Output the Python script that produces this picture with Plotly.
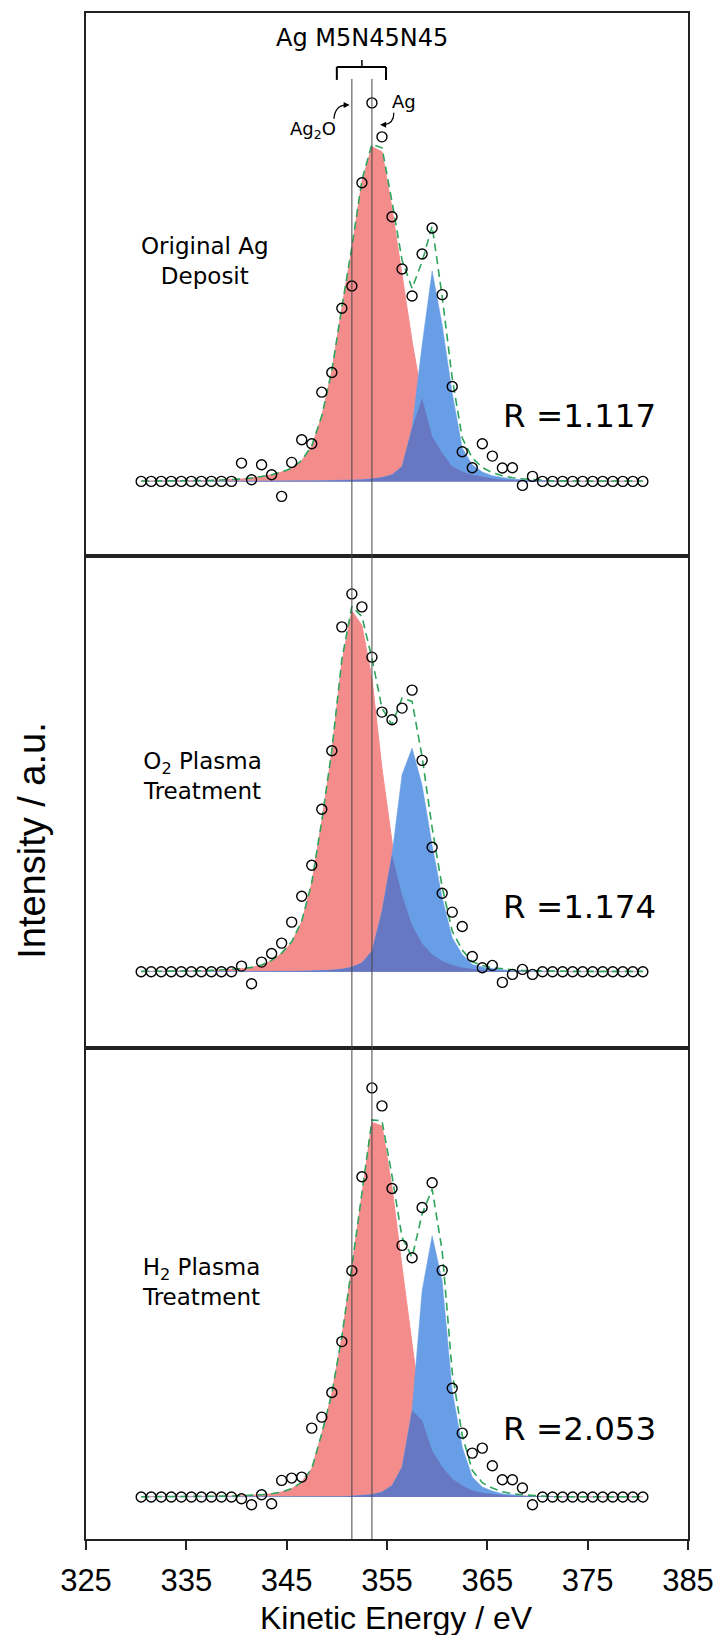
import numpy as np
import plotly.graph_objects as go
from plotly.subplots import make_subplots

# ---------------- data (intensity in arbitrary units) ----------------
energy = [330.5 + i for i in range(51)]

data_orig = [0, 0, 0, 0, 0, 0, 0, 0, 0, 0,
             55, 5, 50, 20, -45, 57, 125, 113, 268, 327,
             520, 587, 897, 1137, 1035, 795, 638, 557, 683, 761,
             561, 285, 89, 41, 113, 76, 40, 41, -12, 15,
             0, 0, 0, 0, 0, 0, 0, 0, 0, 0, 0]
red_orig = [1, 1, 1, 2, 2, 2, 3, 3, 4, 5,
            7, 10, 14, 20, 28, 40, 62, 105, 195, 330,
            520, 700, 900, 1005, 990, 820, 620, 420, 250, 135,
            85, 45, 30, 20, 14, 9, 6, 4, 3, 2,
            2, 1, 1, 1, 1, 1, 1, 1, 1, 1, 1]
blue_orig = [0, 0, 0, 0, 0, 0, 0, 0, 0, 0,
             0, 0, 0, 0, 0, 0, 1, 2, 2, 3,
             3, 4, 5, 8, 12, 20, 45, 160, 410, 632,
             470, 265, 100, 50, 28, 17, 11, 7, 5, 3,
             2, 1, 0, 0, 0, 0, 0, 0, 0, 0, 0]

data_o2 = [0, 0, 0, 0, 0, 0, 0, 0, 0, 0,
           17, -36, 29, 55, 86, 149, 227, 320, 488, 664,
           1036, 1135, 1096, 945, 780, 757, 792, 846, 635, 374,
           236, 179, 136, 46, 12, 19, -32, -8, 7, -8,
           0, 0, 0, 0, 0, 0, 0, 0, 0, 0, 0]
red_o2 = [1, 1, 2, 2, 2, 3, 3, 4, 5, 6,
          9, 13, 20, 33, 55, 88, 150, 265, 450, 660,
          930, 1084, 1040, 880, 610, 390, 230, 140, 85, 52,
          32, 20, 13, 8, 5, 3, 2, 2, 1, 1,
          1, 1, 1, 1, 1, 1, 1, 1, 1, 1, 1]
blue_o2 = [0, 0, 0, 0, 0, 0, 0, 0, 0, 0,
           0, 0, 0, 1, 1, 2, 2, 3, 3, 5,
           8, 14, 27, 62, 182, 352, 592, 672, 560, 380,
           222, 102, 52, 22, 14, 9, 6, 4, 3, 2,
           1, 0, 0, 0, 0, 0, 0, 0, 0, 0, 0]

data_h2 = [0, 0, 0, 0, 0, 0, 0, 0, 0, 0,
           -5, -23, 7, -20, 50, 57, 60, 207, 240, 314,
           467, 680, 962, 1229, 1175, 927, 756, 719, 870, 944,
           681, 327, 192, 132, 147, 94, 52, 52, 27, -23,
           0, 0, 0, 0, 0, 0, 0, 0, 0, 0, 0]
red_h2 = [1, 1, 1, 2, 2, 2, 2, 3, 3, 3,
          4, 5, 7, 10, 15, 25, 45, 85, 190, 310,
          480, 690, 910, 1125, 1115, 930, 690, 460, 230, 140,
          90, 55, 35, 20, 13, 9, 6, 4, 3, 2,
          2, 1, 1, 1, 1, 1, 1, 1, 1, 1, 1]
blue_h2 = [0, 0, 0, 0, 0, 0, 0, 0, 0, 0,
           0, 0, 0, 0, 0, 0, 0, 0, 1, 1,
           2, 3, 5, 8, 15, 35, 90, 260, 620, 785,
           650, 320, 150, 60, 30, 18, 10, 6, 4, 2,
           1, 0, 0, 0, 0, 0, 0, 0, 0, 0, 0]

panel_labels = ["Original Ag<br>Deposit", "O<sub>2</sub> Plasma<br>Treatment",
                "H<sub>2</sub> Plasma<br>Treatment"]
r_labels = ["R =1.117", "R =1.174", "R =2.053"]
line_energies = [351.5, 353.5]
x_ticks = [325, 335, 345, 355, 365, 375, 385]

# ---------------- style ----------------
RED = "#F48C8C"
BLUE = "#689EE6"
OVERLAP = "#6777C2"
GREEN = "#2EA45C"
FRAME = "#222222"

W, H = 725, 1635
L, R, T, B = 86, 27, 11, 96
PH = H - T - B  # 1528


def px_x(p):
    return (p - L) / (W - L - R)


def px_y(p):
    return (H - B - p) / PH


fig = make_subplots(rows=3, cols=1, shared_xaxes=False, vertical_spacing=0,
                    row_heights=[544, 492, 492])

panels = [(data_orig, red_orig, blue_orig),
          (data_o2, red_o2, blue_o2),
          (data_h2, red_h2, blue_h2)]
y_ranges = [[-225, 1407], [-228, 1248], [-126, 1350]]

for i, (d, r, b) in enumerate(panels):
    row = i + 1
    r_arr = np.array(r, dtype=float)
    b_arr = np.array(b, dtype=float)
    fig.add_trace(go.Scatter(x=energy, y=r_arr, mode="lines", fill="tozeroy",
                             fillcolor=RED, line=dict(color=RED, width=1),
                             showlegend=False, hoverinfo="skip"), row=row, col=1)
    fig.add_trace(go.Scatter(x=energy, y=b_arr, mode="lines", fill="tozeroy",
                             fillcolor=BLUE, line=dict(color=BLUE, width=0.5),
                             showlegend=False, hoverinfo="skip"), row=row, col=1)
    fig.add_trace(go.Scatter(x=energy, y=np.minimum(r_arr, b_arr), mode="lines",
                             fill="tozeroy", fillcolor=OVERLAP,
                             line=dict(color=OVERLAP, width=0),
                             showlegend=False, hoverinfo="skip"), row=row, col=1)
    fig.add_trace(go.Scatter(x=energy, y=r_arr + b_arr, mode="lines",
                             line=dict(color=GREEN, width=1.6, dash="8px,5px"),
                             showlegend=False, hoverinfo="skip"), row=row, col=1)
    fig.add_trace(go.Scatter(x=energy, y=d, mode="markers",
                             marker=dict(symbol="circle-open", size=10,
                                         color="black", line=dict(width=1.4)),
                             showlegend=False), row=row, col=1)
    fig.update_yaxes(range=y_ranges[i], row=row, col=1)

fig.update_xaxes(range=[325, 385], showline=True, mirror=True, linecolor=FRAME,
                 linewidth=1.5, showgrid=False, zeroline=False,
                 showticklabels=False, ticks="")
fig.update_xaxes(row=3, col=1, showticklabels=True, ticks="outside", ticklen=9,
                 tickwidth=1.5, tickcolor=FRAME, tickvals=x_ticks,
                 ticklabelstandoff=4,
                 tickfont=dict(family="Liberation Sans Narrow, Liberation Sans, Arial",
                               size=31, color="black"))
fig.update_yaxes(showline=True, mirror=True, linecolor=FRAME, linewidth=1.5,
                 showgrid=False, zeroline=False, showticklabels=False, ticks="")

shapes = []
for e in line_energies:
    shapes.append(dict(type="line", xref="x", yref="paper", x0=e, x1=e,
                       y0=0, y1=px_y(77), line=dict(color="#444444", width=1),
                       layer="above"))
# bracket
bx0, bx1, bxm = 350.0, 354.9, 352.5
shapes += [
    dict(type="line", xref="x", yref="paper", x0=bx0, x1=bx1, y0=px_y(65), y1=px_y(65),
         line=dict(color="black", width=2)),
    dict(type="line", xref="x", yref="paper", x0=bx0, x1=bx0, y0=px_y(65), y1=px_y(78),
         line=dict(color="black", width=2)),
    dict(type="line", xref="x", yref="paper", x0=bx1, x1=bx1, y0=px_y(65), y1=px_y(78),
         line=dict(color="black", width=2)),
    dict(type="line", xref="x", yref="paper", x0=bxm, x1=bxm, y0=px_y(58), y1=px_y(65),
         line=dict(color="black", width=1.5)),
]
# curved arrow bodies
shapes.append(dict(type="path", xref="paper", yref="paper",
                   path=f"M {px_x(338)},{px_y(117)} Q {px_x(339)},{px_y(104)} {px_x(350)},{px_y(103)}",
                   line=dict(color="black", width=1.2)))
shapes.append(dict(type="path", xref="paper", yref="paper",
                   path=f"M {px_x(399)},{px_y(111)} Q {px_x(399)},{px_y(122)} {px_x(389)},{px_y(123)}",
                   line=dict(color="black", width=1.2)))
fig.update_layout(shapes=shapes)

IN_FONT = "DejaVu Sans"


def text_ann(text, xp, yp, size, family=IN_FONT, **kw):
    d = dict(text=text, xref="paper", yref="paper", x=px_x(xp), y=px_y(yp),
             xanchor="center", yanchor="middle", showarrow=False,
             font=dict(family=family, size=size, color="black"))
    d.update(kw)
    return d


ann = []
ann.append(text_ann("Ag M5N45N45", 367, 36, 24))
ann.append(text_ann("Ag<sub>2</sub>O", 317, 128, 18))
ann.append(text_ann("Ag", 409, 100, 18))
# arrow heads
ann.append(dict(text="", xref="paper", yref="paper", x=px_x(354), y=px_y(103),
                ax=-6, ay=0, showarrow=True, arrowhead=2, arrowsize=1, arrowwidth=1.2,
                arrowcolor="black"))
ann.append(dict(text="", xref="paper", yref="paper", x=px_x(385), y=px_y(123),
                ax=6, ay=0, showarrow=True, arrowhead=2, arrowsize=1, arrowwidth=1.2,
                arrowcolor="black"))

label_pos = [(207, 259), (204, 775), (203, 1282)]
r_pos = [(588, 415), (588, 906), (588, 1429)]
for (lx, ly), lab in zip(label_pos, panel_labels):
    ann.append(text_ann(lab, lx, ly, 23, align="center"))
for (rx, ry), lab in zip(r_pos, r_labels):
    ann.append(text_ann(lab, rx, ry, 32.5))

AX_FONT = "Liberation Sans, Arial"
ann.append(text_ann("Kinetic Energy / eV", 402, 1618, 32, family=AX_FONT))
ann.append(text_ann("Intensity / a.u.", 31, 839, 38, family=AX_FONT, textangle=-90))
fig.update_layout(annotations=ann)

fig.update_layout(width=W, height=H, margin=dict(l=L, r=R, t=T, b=B),
                  plot_bgcolor="white", paper_bgcolor="white")

fig.write_html("out.html", config={"displayModeBar": False},
               post_script="document.body.style.margin='0px';document.body.style.padding='0px';")
